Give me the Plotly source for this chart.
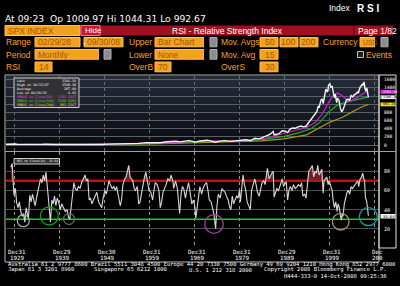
import numpy as np
import plotly.graph_objects as go

W, H = 400, 286
def X(p): return p / W
def Y(p): return 1 - p / H

# ---------------- data ----------------
price_years = [1928.17, 1928.6, 1928.9, 1929.3, 1929.7, 1929.9, 1930.3, 1930.9, 1931.5, 1932.0, 1932.5, 1933.0,
               1933.5, 1934.5, 1935.2, 1936.0, 1937.1, 1937.6, 1938.3, 1939.0, 1940.0, 1941.0, 1942.3, 1943.5,
               1945.0, 1946.4, 1947.0, 1949.5, 1951.0, 1953.0, 1954.5, 1956.5, 1957.8, 1959.5, 1960.8, 1961.9,
               1962.5, 1964.0, 1966.0, 1966.8, 1968.9, 1970.4, 1971.3, 1973.0, 1974.8, 1975.5, 1976.8, 1978.2,
               1979.5, 1980.9, 1981.5, 1982.6, 1983.5, 1984.5, 1985.5, 1985.9, 1986.5, 1987.0, 1987.6, 1987.8,
               1988.5, 1988.9, 1989.6, 1990.3, 1990.8, 1991.3, 1991.9, 1992.5, 1993.0, 1993.8, 1994.2, 1994.9,
               1995.4, 1995.9, 1996.4, 1996.9, 1997.3, 1997.6, 1997.8, 1998.2, 1998.5, 1998.7, 1999.0, 1999.3,
               1999.5, 1999.7, 1999.9, 2000.2, 2000.4, 2000.7, 2000.9, 2001.2, 2001.4, 2001.7, 2001.9, 2002.2,
               2002.5, 2002.8, 2003.1, 2003.5, 2003.9, 2004.3, 2004.6, 2004.9, 2005.3, 2005.6, 2005.9, 2006.3,
               2006.5, 2006.9, 2007.2, 2007.5, 2007.6, 2007.8, 2008.0, 2008.2, 2008.4, 2008.5, 2008.75]
price_values = [17.3, 20, 24, 25, 31.7, 21.5, 25, 16, 15, 8, 4.4, 7,
                11, 9, 9, 15, 18.5, 13, 9, 12.5, 11, 10, 7.8, 12,
                15, 19, 15, 14, 22, 25, 30, 48, 41, 58, 56, 71,
                55, 80, 92, 77, 106, 72, 100, 118, 69, 90, 107, 88,
                105, 136, 130, 107, 166, 150, 190, 210, 245, 270, 330, 250,
                270, 278, 350, 340, 305, 385, 417, 410, 440, 465, 445, 460,
                540, 615, 670, 740, 820, 955, 914, 1100, 1130, 1017, 1260, 1370,
                1330, 1300, 1469, 1499, 1420, 1436, 1320, 1160, 1250, 1040, 1148, 1100,
                911, 815, 860, 975, 1112, 1120, 1100, 1212, 1180, 1230, 1248, 1300,
                1270, 1418, 1470, 1503, 1455, 1549, 1380, 1322, 1400, 1280, 1166]

ma50_years = [1932.3, 1935, 1938, 1941, 1944, 1947, 1950, 1953, 1956, 1959, 1962, 1965, 1968, 1971, 1974,
              1977, 1980, 1983, 1986, 1989, 1992, 1995, 1997, 1998.5, 2000, 2001, 2001.9, 2003, 2004.1,
              2005, 2006, 2007, 2008, 2008.75]
ma50_values = [14, 9, 13, 11, 11, 15, 16, 21, 34, 47, 60, 75, 88, 96, 98,
               95, 105, 125, 165, 250, 330, 430, 560, 760, 1060, 1230, 1275, 1200, 1100,
               1090, 1150, 1230, 1290, 1291]
ma100_years = [1936.5, 1940, 1945, 1950, 1955, 1960, 1965, 1970, 1975, 1980, 1985, 1990, 1993, 1996,
               1998, 2000, 2002, 2004, 2006, 2008, 2008.75]
ma100_values = [15, 14, 11, 14, 22, 38, 60, 82, 92, 100, 130, 210, 290, 400,
                560, 820, 990, 1060, 1110, 1170, 1180]
ma200_years = [1944.8, 1950, 1955, 1960, 1965, 1970, 1975, 1980, 1985, 1990, 1995, 2000, 2003, 2005,
               2007, 2008.75]
ma200_values = [12, 13, 16, 25, 37, 55, 72, 85, 100, 150, 250, 550, 680, 800, 920, 995]

rsi_years = [1929.3, 1929.6, 1929.8, 1930.0, 1930.3, 1930.6, 1930.9, 1931.2, 1931.5, 1931.8, 1932.1, 1932.4,
             1932.7, 1932.9, 1933.2, 1933.5, 1933.8, 1934.1, 1934.4, 1934.7, 1935.0, 1935.3, 1935.6, 1935.9,
             1936.2, 1936.5, 1936.8, 1937.1, 1937.4, 1937.7, 1937.9, 1938.1, 1938.4, 1938.7, 1939.0, 1939.3,
             1939.6, 1939.9, 1940.3, 1940.6, 1941.0, 1941.4, 1941.8, 1942.1, 1942.4, 1942.7, 1943.0, 1943.3,
             1943.6, 1944.0, 1944.3, 1944.7, 1945.0, 1945.4, 1945.8, 1946.1, 1946.4, 1946.7, 1947.0, 1947.3,
             1947.7, 1948.0, 1948.4, 1948.8, 1949.2, 1949.5, 1949.8, 1950.2, 1950.5, 1950.8, 1951.1, 1951.4,
             1951.8, 1952.2, 1952.5, 1952.8, 1953.2, 1953.6, 1953.9, 1954.2, 1954.6, 1954.9, 1955.2, 1955.5,
             1955.8, 1956.1, 1956.4, 1956.7, 1957.0, 1957.4, 1957.7, 1958.0, 1958.3, 1958.7, 1959.0, 1959.3,
             1959.6, 1960.0, 1960.4, 1960.8, 1961.1, 1961.4, 1961.8, 1962.2, 1962.5, 1962.8, 1963.1, 1963.5,
             1963.8, 1964.2, 1964.6, 1964.9, 1965.3, 1965.5, 1965.9, 1966.3, 1966.6, 1966.8, 1967.1, 1967.4,
             1967.7, 1968.1, 1968.4, 1968.8, 1969.2, 1969.5, 1969.9, 1970.2, 1970.4, 1970.7, 1971.0, 1971.3,
             1971.7, 1972.0, 1972.4, 1972.8, 1973.1, 1973.4, 1973.8, 1974.1, 1974.4, 1974.7, 1974.8, 1975.1,
             1975.4, 1975.8, 1976.2, 1976.5, 1976.9, 1977.2, 1977.6, 1977.9, 1978.2, 1978.5, 1978.8, 1979.1,
             1979.5, 1979.8, 1980.1, 1980.3, 1980.6, 1980.9, 1981.2, 1981.5, 1981.8, 1982.2, 1982.5, 1982.8,
             1983.1, 1983.5, 1983.8, 1984.1, 1984.5, 1984.8, 1985.1, 1985.5, 1985.8, 1986.1, 1986.3, 1986.7,
             1987.0, 1987.3, 1987.6, 1987.8, 1988.0, 1988.4, 1988.8, 1989.2, 1989.6, 1989.9, 1990.2, 1990.5,
             1990.8, 1991.1, 1991.4, 1991.8, 1992.1, 1992.5, 1992.9, 1993.2, 1993.6, 1993.9, 1994.2, 1994.6,
             1994.9, 1995.2, 1995.5, 1995.8, 1996.1, 1996.3, 1996.6, 1996.9, 1997.2, 1997.5, 1997.8, 1998.1,
             1998.4, 1998.7, 1998.9, 1999.2, 1999.5, 1999.8, 2000.0, 2000.3, 2000.7, 2000.9, 2001.2, 2001.5,
             2001.8, 2002.0, 2002.3, 2002.6, 2002.8, 2002.9, 2003.1, 2003.4, 2003.7, 2004.0, 2004.3, 2004.6,
             2004.9, 2005.2, 2005.5, 2005.8, 2006.1, 2006.4, 2006.6, 2006.9, 2007.2, 2007.5, 2007.7, 2007.9,
             2008.1, 2008.3, 2008.5, 2008.75]
rsi_values = [84, 88, 70, 55, 62, 47, 42, 48, 38, 33, 36, 27,
              42, 35, 30, 55, 48, 56, 50, 44, 52, 58, 64, 72,
              68, 76, 70, 79, 64, 50, 38, 27, 50, 46, 54, 44,
              52, 48, 40, 46, 42, 38, 40, 32, 30, 45, 57, 68,
              62, 60, 64, 62, 68, 72, 76, 70, 72, 50, 52, 46,
              50, 54, 58, 48, 44, 42, 52, 60, 56, 64, 70, 66,
              62, 64, 60, 64, 54, 44, 50, 66, 72, 74, 80, 86,
              74, 72, 70, 62, 60, 64, 46, 48, 56, 68, 74, 79,
              70, 60, 58, 50, 60, 68, 66, 60, 42, 48, 58, 62,
              66, 72, 70, 76, 70, 62, 70, 62, 44, 36, 55, 64,
              62, 52, 60, 68, 56, 46, 50, 42, 31, 44, 58, 64,
              56, 62, 66, 68, 60, 50, 48, 41, 36, 24, 20, 44,
              56, 52, 62, 60, 58, 54, 50, 43, 40, 54, 46, 50,
              54, 52, 60, 48, 64, 76, 66, 60, 48, 44, 40, 60,
              66, 72, 66, 58, 54, 62, 68, 70, 66, 76, 83, 72,
              76, 78, 80, 53, 56, 62, 60, 66, 72, 64, 66, 69,
              50, 60, 64, 60, 66, 62, 64, 66, 64, 68, 54, 56,
              52, 70, 80, 82, 84, 86, 74, 80, 78, 86, 76, 80,
              82, 57, 70, 72, 74, 66, 70, 66, 60, 50, 42, 48,
              38, 46, 42, 32, 29, 36, 33, 46, 52, 58, 60, 56,
              64, 62, 64, 66, 68, 70, 64, 72, 74, 78, 73, 70,
              52, 50, 44, 33.64]

price_ticks = [0, 200, 400, 600, 800, 1000, 1200, 1400, 1600]
price_ticks_hidden = [1000, 1200]          # covered by the value boxes in the reference
rsi_ticks = [20, 40, 60, 80]
overbought, oversold = 70, 30
tick_years = [1930, 1940, 1950, 1960, 1970, 1980, 1990, 2000, 2010]
tick_top = ["Dec31", "Dec29", "Dec30", "Dec31", "Dec31", "Dec31", "Dec29", "Dec31", "Dec"]
tick_bottom = ["1929", "1939", "1949", "1959", "1969", "1979", "1989", "1999", "200"]

legend_rows = [("Last", "1166.36", "#ffffff"), ("High on 10/31/07", "1549.38", "#ffffff"),
               ("Average", "287.40", "#ffffff"), ("Low on 06/30/32", "4.43", "#ffffff"),
               ("SMAVG on Close(50)", "1291.1047", "#ff30ff"), ("SMAVG on Close(100)", "1180.6092", "#30e030"),
               ("SMAVG on Close(200)", "991.2367", "#e8e020")]

# ---------------- figure ----------------
XR = [1928.22, 2011.11]
PR_PX0, PR_PX1600 = 145.0, 79.8
ppx = 1600 / (PR_PX0 - PR_PX1600)
PY_TOP, PY_BOT = 76, 151
yr_price = [-(PY_BOT - PR_PX0) * ppx, 1600 + (PR_PX1600 - PY_TOP) * ppx]

fig = go.Figure()
fig.add_trace(go.Scatter(x=ma200_years, y=ma200_values, xaxis='x', yaxis='y', mode='lines',
                         line=dict(color='#a8981c', width=1.2)))
fig.add_trace(go.Scatter(x=ma100_years, y=ma100_values, xaxis='x', yaxis='y', mode='lines',
                         line=dict(color='#20b020', width=1.2)))
fig.add_trace(go.Scatter(x=ma50_years, y=ma50_values, xaxis='x', yaxis='y', mode='lines',
                         line=dict(color='#d020d0', width=1.2)))
fig.add_trace(go.Scatter(x=price_years, y=price_values, xaxis='x', yaxis='y', mode='lines',
                         line=dict(color='#f4f4f4', width=1.4)))

rsi_arr = np.array(rsi_values, dtype=float)
fig.add_trace(go.Scatter(x=rsi_years, y=[overbought] * len(rsi_years), xaxis='x2', yaxis='y2', mode='lines',
                         line=dict(width=0, color='rgba(0,0,0,0)')))
fig.add_trace(go.Scatter(x=rsi_years, y=np.maximum(rsi_arr, overbought), xaxis='x2', yaxis='y2', mode='lines',
                         fill='tonexty', fillcolor='rgba(150,35,45,0.8)', line=dict(width=0, color='rgba(0,0,0,0)')))
fig.add_trace(go.Scatter(x=rsi_years, y=rsi_values, xaxis='x2', yaxis='y2', mode='lines',
                         line=dict(color='#d8d8d8', width=1.1)))

shapes = []
ann = []

def rect(x0, y0, x1, y1, fill, line=None, lw=0, layer='above'):
    shapes.append(dict(type='rect', xref='paper', yref='paper', x0=X(x0), x1=X(x1), y0=Y(y1), y1=Y(y0),
                       fillcolor=fill, line=dict(color=line or fill, width=lw), layer=layer))

def hline(x0, x1, y, color, w=1, layer='above'):
    shapes.append(dict(type='line', xref='paper', yref='paper', x0=X(x0), x1=X(x1), y0=Y(y), y1=Y(y),
                       line=dict(color=color, width=w), layer=layer))

def text(x, y, s, color, size, anchor='left', family='Liberation Sans', bg=None):
    a = dict(xref='paper', yref='paper', x=X(x), y=Y(y), text=s, showarrow=False, xanchor=anchor,
             yanchor='middle', font=dict(color=color, size=size, family=family), borderpad=0)
    if bg:
        a['bgcolor'] = bg
    ann.append(a)

# price panel gradient background
n = 15
for i in range(n):
    t = i / (n - 1)
    c = (int(36 - 28 * t), int(44 - 34 * t), int(56 - 42 * t))
    y0 = PY_TOP + i * (PY_BOT - PY_TOP) / n
    y1 = PY_TOP + (i + 1) * (PY_BOT - PY_TOP) / n + 0.5
    rect(6, y0, 379, y1, 'rgb(%d,%d,%d)' % c, layer='below')

# overbought / oversold lines
shapes.append(dict(type='line', xref='x2', yref='y2', x0=XR[0], x1=XR[1], y0=overbought, y1=overbought,
                   line=dict(color='#cc0a0a', width=2.5), layer='between'))
shapes.append(dict(type='line', xref='x2', yref='y2', x0=XR[0], x1=XR[1], y0=oversold, y1=oversold,
                   line=dict(color='#10d010', width=1.5), layer='between'))

# circles
for cx, cy, r, col in [(23.3, 220.7, 6, '#a8a8a8'), (49.3, 216, 9, '#10a010'), (69, 219, 5.5, '#6a6a50'),
                       (214, 224, 9.3, '#a040a8'), (340.7, 221.7, 8.3, '#a89070'), (368.3, 216.7, 9, '#10a0a0')]:
    shapes.append(dict(type='circle', xref='paper', yref='paper', x0=X(cx - r), x1=X(cx + r),
                       y0=Y(cy + r), y1=Y(cy - r), line=dict(color=col, width=1.3), layer='above'))

# frames
rect(5, 75, 379, 262, 'rgba(0,0,0,0)', line='#b8b8b8', lw=1)
rect(379, 75, 396, 248, 'rgba(0,0,0,0)', line='#e0e0e0', lw=1)
hline(5, 396, 151.5, '#a0a0a0', 1)

# price legend box
rect(14, 78, 79, 107.5, '#303234', line='#d0d0d0', lw=1)
for i, (lab, val, col) in enumerate(legend_rows):
    yy = 81 + i * 4.0
    text(16, yy, lab, col, 3.3, family='DejaVu Sans Mono')
    text(77, yy, val, col, 3.3, anchor='right', family='DejaVu Sans Mono')

# rsi legend box
rect(14, 158.5, 59.5, 164, '#303234', line='#d0d0d0', lw=1)
text(15.5, 161.3, "RSI on Close(14)", '#ffffff', 3.0, family='DejaVu Sans Mono')
text(58.8, 161.3, "33.64", '#ffffff', 3.0, anchor='right', family='DejaVu Sans Mono')

# right axis labels
for v in price_ticks:
    if v in price_ticks_hidden:
        continue
    ann.append(dict(xref='paper', yref='y', x=X(382), y=v, text=str(v), showarrow=False, xanchor='left',
                    yanchor='middle', font=dict(color='#ffffff', size=4.6, family='DejaVu Sans Mono')))
for v in rsi_ticks:
    ann.append(dict(xref='paper', yref='y2', x=X(382), y=v, text=str(v), showarrow=False, xanchor='left',
                    yanchor='middle', font=dict(color='#ffffff', size=5, family='DejaVu Sans Mono')))

# value boxes
VF = 3.4
rect(380.5, 90, 395.5, 93.8, '#e020e0')
text(381.5, 91.9, "1291.10", '#ffffff', VF, family='DejaVu Sans Mono')
rect(380.5, 95.3, 395.5, 99.1, '#f0f0f0')
rect(380.5, 95.3, 381.5, 99.1, '#20c020')
text(381.8, 97.2, "1166.36", '#000000', VF, family='DejaVu Sans Mono')
rect(380.5, 102.5, 395.5, 106.3, '#e8e010')
text(381.5, 104.4, "991.24", '#000000', VF, family='DejaVu Sans Mono')
rect(380.5, 214, 395.5, 218.5, '#f0f0f0')
text(382, 216.3, "33.64", '#000000', 3.8, family='DejaVu Sans Mono')

# x tick labels
for i, (yr, t1, t2) in enumerate(zip(tick_years, tick_top, tick_bottom)):
    last = i == len(tick_years) - 1
    for yy, s in ((251.8, t1), (258.3, t2)):
        ann.append(dict(xref='x2', yref='paper', x=yr, y=Y(yy), text=s, showarrow=False,
                        xanchor='left' if last else 'center', xshift=-4 if last else 3, yanchor='middle',
                        font=dict(color='#ffffff', size=5.8, family='DejaVu Sans Mono')))

# ---------------- header ----------------
ORANGE = '#f4a11e'
FTXT = '#a35800'
LBL = '#f7a22a'
text(4, 18.3, "At 09:23  Op 1009.97 Hi 1044.31 Lo 992.67", '#ffffff', 9.2, family='DejaVu Sans')
text(328, 8.5, "Index", '#ffffff', 8.5)
text(356, 8.5, "<b>R S I</b>", '#ffffff', 10)

rect(5, 25.5, 80, 35.5, ORANGE, line='#ffc060', lw=1)
text(7, 30.7, "SPX INDEX", FTXT, 8.5)
rect(100, 25.5, 393, 35.5, '#a0101e')
rect(81, 25.5, 100, 35.5, '#d4122c', line='#ff7080', lw=1)
text(84, 30.2, "Hide", '#ffffff', 8)
text(227.5, 30.7, "RSI - Relative Strength Index", '#ffffff', 8.5, anchor='center')
rect(354, 25.5, 390, 35.5, '#a0101e', line='#600008', lw=1)
text(357, 30.7, "Page 1/82", '#ffffff', 8.5)

def field(x0, x1, y0, y1, s, align='left', size=8.5):
    rect(x0, y0, x1, y1, ORANGE, line='#ffc060', lw=1)
    if align == 'left':
        text(x0 + 2, (y0 + y1) / 2 + 0.3, s, FTXT, size)
    else:
        text(x1 - 2, (y0 + y1) / 2 + 0.3, s, FTXT, size, anchor='right')

def button(x0, x1, y0, y1):
    rect(x0, y0, x1 - 7, y1, '#000000')
    rect(x1 - 7, y0, x1, y1, '#8c8c8c', line='#b0b0b0', lw=1)

r3 = (37.5, 46.8); r4 = (49.5, 59.2); r5 = (62, 71.8)
# row 3
text(5, 42.3, "Range", LBL, 8.5)
field(35, 80, *r3, s="02/29/28")
text(81.5, 42, "-", '#ffffff', 8)
field(84, 123, *r3, s="09/30/08")
text(128, 42.3, "Upper", LBL, 8.5)
field(155, 204, *r3, s="Bar Chart")
button(204, 217, *r3)
text(220, 42.3, "Mov. Avgs", LBL, 8.5)
field(260, 278, *r3, s="50", align='right')
field(280, 298, *r3, s="100", align='right')
field(300, 318, *r3, s="200", align='right')
text(322, 42.3, "Currency", LBL, 8.5)
field(360, 375, *r3, s="USD", size=6.8)
button(375, 388, *r3)
# row 4
text(5, 54.6, "Period", LBL, 8.5)
field(35, 99, *r4, s="Monthly")
button(99, 111, *r4)
text(128, 54.6, "Lower", LBL, 8.5)
field(155, 204, *r4, s="None")
button(204, 217, *r4)
text(220, 54.6, "Mov. Avg", LBL, 8.5)
field(260, 278, *r4, s="15", align='right')
rect(357.5, 51.5, 363.5, 57.5, '#202020', line='#c0c0c0', lw=1)
text(365, 54.6, "Events", LBL, 8.5)
# row 5
text(5, 67, "RSI", LBL, 8.5)
field(35, 52, *r5, s="14", align='right')
text(128, 67, "OverB", LBL, 8.5)
field(155, 171, *r5, s="70", align='right')
text(220, 67, "OverS", LBL, 8.5)
field(260, 278, *r5, s="30", align='right')

# ---------------- footer ----------------
FM = 'DejaVu Sans Mono'
text(7, 264.8, "Australia 61 2 9777 8600 Brazil 5511 3048 4500 Europe 44 20 7330 7500 Germany 49 69 9204 1210 Hong Kong 852 2977 6000",
     '#ffffff', 5.5, family=FM)
text(7, 269.8, "Japan 81 3 3201 8900", '#ffffff', 5.5, family=FM)
text(93, 269.8, "Singapore 65 6212 1000", '#ffffff', 5.5, family=FM)
text(188, 269.8, "U.S. 1 212 318 2000", '#ffffff', 5.5, family=FM)
text(388, 269.8, "Copyright 2008 Bloomberg Finance L.P.", '#ffffff', 5.5, anchor='right', family=FM)
text(388, 275.5, "H444-333-0 14-Oct-2008 09:25:36", '#ffffff', 5.5, anchor='right', family=FM)

fig.update_layout(
    width=W, height=H, margin=dict(l=0, r=0, t=0, b=0),
    paper_bgcolor='#000000', plot_bgcolor='rgba(0,0,0,0)', showlegend=False,
    xaxis=dict(domain=[X(6), X(379)], range=XR, anchor='y', showticklabels=False, showline=False,
               zeroline=False, showgrid=True, gridcolor='#6a6e72', griddash='dot', gridwidth=1,
               tick0=1930, dtick=10, ticks=''),
    yaxis=dict(domain=[Y(PY_BOT), Y(PY_TOP)], range=yr_price, anchor='x', showticklabels=False,
               showline=False, zeroline=False, showgrid=True, gridcolor='#5a6068', gridwidth=1,
               tickvals=price_ticks, ticks=''),
    xaxis2=dict(domain=[X(6), X(379)], range=XR, anchor='y2', showticklabels=False, showline=False,
                zeroline=False, showgrid=True, gridcolor='#9a9a9a', griddash='dot', gridwidth=1,
                tick0=1930, dtick=10, ticks=''),
    yaxis2=dict(domain=[Y(248), Y(152)], range=[0, 100], anchor='x2', showticklabels=False,
                showline=False, zeroline=False, showgrid=True, gridcolor='#505050', gridwidth=1,
                tickvals=rsi_ticks, ticks=''),
    shapes=shapes, annotations=ann,
)

fig.write_html("out.html")
